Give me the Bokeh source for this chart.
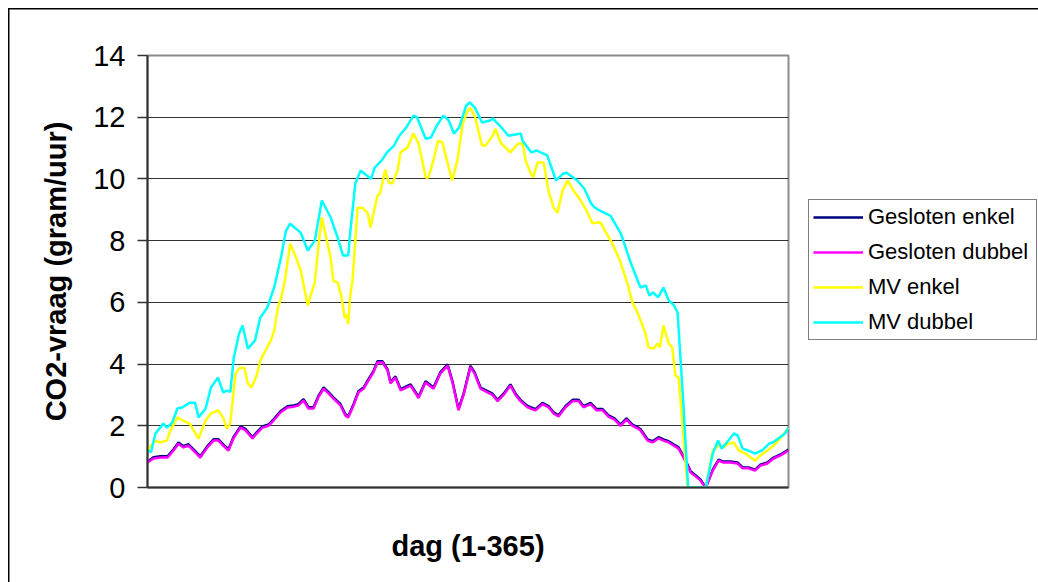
from bokeh.plotting import figure
from bokeh.layouts import row
from bokeh.models import Legend, LegendItem, FixedTicker, Range1d
from bokeh.embed import file_html
from bokeh.resources import INLINE

# --- data: CO2 demand per day of year ---------------------------------
dag_gesloten = [1, 4.4, 8.4, 12.4, 15.8, 18.6, 21.4, 24.3, 27, 31, 35, 38.5, 41.3, 44, 47,
                49.8, 53.8, 56.7, 60.6, 63.5, 66.3, 69.7, 72.6, 76.5, 80.5, 84, 86.7, 89.6,
                92.4, 95.3, 98, 101, 103.8, 106.6, 110.6, 113.4, 115, 118, 120.8, 123.7,
                126.5, 129.3, 131.6, 134.5, 137.3, 139, 141.8, 144.7, 150.4, 154.9, 158.9,
                163.4, 167.4, 171.4, 174.2, 177.6, 180.5, 184.4, 186.7, 190.1, 193.5, 196.9,
                199.8, 203.2, 207.1, 210, 212.8, 216.8, 221.3, 225.3, 228.7, 231.6, 234.4,
                238.4, 242.4, 245.8, 248.6, 252.6, 256, 259.4, 262.8, 266.2, 269.6, 273,
                276.4, 279.8, 281, 285, 287.8, 291.2, 294, 296.9, 299.7, 302.6, 305.4, 309.4,
                315, 318, 322, 325.3, 328, 332, 336, 339, 342.3, 346, 349, 353, 356.5, 360.5,
                365]

gesloten_enkel = [0.84, 0.98, 1.01, 1.01, 1.24, 1.46, 1.34, 1.4, 1.24, 1.01, 1.34, 1.56, 1.56,
                  1.4, 1.24, 1.63, 1.98, 1.89, 1.63, 1.82, 1.98, 2.04, 2.21, 2.47, 2.63, 2.66,
                  2.7, 2.86, 2.6, 2.6, 2.96, 3.24, 3.09, 2.92, 2.7, 2.37, 2.31, 2.7, 3.12, 3.24,
                  3.51, 3.77, 4.09, 4.09, 3.83, 3.41, 3.6, 3.19, 3.34, 2.94, 3.44, 3.24, 3.74,
                  3.99, 3.44, 2.54, 3.04, 3.94, 3.74, 3.24, 3.14, 3.04, 2.84, 3.04, 3.34, 3.04,
                  2.84, 2.64, 2.54, 2.74, 2.64, 2.44, 2.34, 2.64, 2.84, 2.84, 2.64, 2.74, 2.54,
                  2.54, 2.34, 2.24, 2.04, 2.24, 2.04, 1.94, 1.89, 1.56, 1.5, 1.63, 1.56, 1.5,
                  1.4, 1.3, 1.01, 0.53, 0.26, 0.0, 0.58, 0.9, 0.84, 0.84, 0.81, 0.65, 0.65,
                  0.58, 0.74, 0.81, 0.97, 1.07, 1.23]

gesloten_dubbel = [0.81, 0.94, 0.97, 0.97, 1.2, 1.42, 1.3, 1.36, 1.2, 0.97, 1.3, 1.52, 1.52,
                   1.36, 1.2, 1.59, 1.94, 1.85, 1.59, 1.78, 1.94, 2.0, 2.17, 2.43, 2.59, 2.62,
                   2.66, 2.82, 2.56, 2.56, 2.92, 3.2, 3.05, 2.88, 2.66, 2.33, 2.27, 2.66, 3.08,
                   3.2, 3.47, 3.73, 4.05, 4.05, 3.79, 3.37, 3.56, 3.15, 3.3, 2.9, 3.4, 3.2, 3.7,
                   3.95, 3.4, 2.5, 3.0, 3.9, 3.7, 3.2, 3.1, 3.0, 2.8, 3.0, 3.3, 3.0, 2.8, 2.6,
                   2.5, 2.7, 2.6, 2.4, 2.3, 2.6, 2.8, 2.8, 2.6, 2.7, 2.5, 2.5, 2.3, 2.2, 2.0,
                   2.2, 2.0, 1.9, 1.85, 1.52, 1.46, 1.59, 1.52, 1.46, 1.36, 1.26, 0.97, 0.49,
                   0.23, 0.0, 0.55, 0.87, 0.81, 0.81, 0.78, 0.62, 0.62, 0.55, 0.71, 0.78, 0.94,
                   1.04, 1.2]

dag_mv_enkel = [1, 3, 5.5, 8, 12, 13.5, 16, 18, 21, 25, 28, 30, 34, 37, 41, 44, 46, 48, 51, 53,
                56, 58, 60, 63, 65, 68, 71, 73, 75, 77, 79, 82, 85, 88, 92, 94, 96, 98, 100,
                105, 106.5, 109, 111, 113, 114, 115, 116, 117.4, 120.3, 123, 126, 127.6,
                131.6, 133, 136, 138, 140, 143, 144.7, 148.7, 152, 154.9, 159, 160.6, 163.4,
                166, 168.5, 171, 174, 177, 180, 182.7, 184.4, 187, 191, 193, 197, 198.6,
                201.5, 207, 211.7, 214, 215.7, 218.5, 220, 222.5, 226, 228.7, 231.6, 233.8,
                236.7, 239.5, 243, 247, 249.7, 253.7, 256.6, 258.3, 261, 265, 269, 273.6,
                276.4, 279, 281, 283.8, 285.5, 288.4, 290.6, 292, 294, 297, 299, 300.8, 302.6,
                307.7, 318, 322, 325, 328, 331, 334, 336.6, 340.6, 343.4, 346, 349, 353,
                356.5, 360.5, 365]

mv_enkel = [1.2, 1.35, 1.52, 1.46, 1.52, 1.78, 2.07, 2.27, 2.17, 2.07, 1.78, 1.59, 2.17, 2.4,
            2.5, 2.27, 1.91, 2.07, 3.69, 3.86, 3.89, 3.37, 3.24, 3.63, 4.1, 4.44, 4.76, 5.09,
            5.83, 6.16, 6.7, 7.9, 7.5, 7.03, 5.9, 6.28, 6.64, 7.8, 8.75, 7.45, 6.7, 6.64, 6.22,
            5.5, 5.6, 5.3, 6.16, 6.7, 9.07, 9.07, 8.9, 8.43, 9.46, 9.52, 10.3, 9.88, 9.85,
            10.27, 10.86, 11.02, 11.47, 11.15, 10.05, 10.05, 10.6, 11.24, 11.18, 10.6, 9.95,
            10.6, 11.8, 12.2, 12.3, 12.0, 11.08, 11.08, 11.4, 11.63, 11.18, 10.86, 11.15,
            11.15, 10.6, 10.2, 10.05, 10.53, 10.53, 9.62, 9.07, 8.9, 9.62, 9.95, 9.62, 9.3,
            9.04, 8.56, 8.59, 8.59, 8.3, 7.9, 7.4, 6.6, 6.0, 5.7, 5.41, 4.99, 4.54, 4.5, 4.66,
            4.54, 5.25, 4.66, 4.54, 3.63, 3.56, 0.0, 0.0, 1.2, 1.36, 1.3, 1.42, 1.46, 1.2,
            1.1, 0.97, 0.87, 1.04, 1.2, 1.36, 1.6, 1.94]

dag_mv_dubbel = [1, 3, 5.5, 10, 12, 15, 18, 21, 25, 28, 30, 34, 37, 41, 44, 46, 48, 50, 53, 55,
                 58, 62, 65, 69, 71, 73, 77, 79.5, 82, 85, 88, 92, 96, 100, 105, 109, 112, 115,
                 116, 119, 122, 128, 130, 134, 137, 141, 144, 148, 152, 154, 159, 162, 165,
                 169, 172, 175, 178, 182, 184, 187, 191, 196, 197, 201, 206, 213, 214, 219,
                 222, 228, 233, 237, 239, 245, 249, 253, 255, 258, 264, 270, 275, 278, 281,
                 284, 286, 288, 291, 294, 297, 300, 302, 305, 308, 318, 322, 325, 327, 330,
                 334, 336, 339, 342, 346, 350, 354, 356, 360, 363, 365]

mv_dubbel = [1.2, 1.15, 1.75, 2.07, 1.94, 2.1, 2.56, 2.6, 2.75, 2.75, 2.27, 2.56, 3.24, 3.56,
             3.08, 3.14, 3.1, 4.2, 4.99, 5.25, 4.5, 4.76, 5.5, 5.83, 6.16, 6.5, 7.5, 8.3, 8.55,
             8.4, 8.26, 7.68, 8.0, 9.3, 8.75, 8.1, 7.52, 7.52, 8.2, 9.85, 10.27, 10.0, 10.37,
             10.6, 10.86, 11.08, 11.4, 11.67, 12.05, 12.0, 11.3, 11.34, 11.7, 12.05, 11.9,
             11.47, 11.67, 12.38, 12.48, 12.3, 11.83, 11.9, 11.96, 11.73, 11.4, 11.47, 11.24,
             10.86, 10.92, 10.76, 9.95, 10.17, 10.2, 9.95, 9.69, 9.2, 9.07, 8.97, 8.8, 8.2,
             7.35, 6.9, 6.48, 6.55, 6.22, 6.32, 6.16, 6.48, 6.06, 5.9, 5.67, 3.0, 0.0, 0.0,
             1.1, 1.52, 1.26, 1.46, 1.75, 1.7, 1.26, 1.2, 1.1, 1.2, 1.42, 1.46, 1.62, 1.75,
             1.94]

y_ticks = [0, 2, 4, 6, 8, 10, 12, 14]

series = [
    ("Gesloten enkel", dag_gesloten, gesloten_enkel, "#000080"),
    ("Gesloten dubbel", dag_gesloten, gesloten_dubbel, "#FF00FF"),
    ("MV enkel", dag_mv_enkel, mv_enkel, "#FFFF00"),
    ("MV dubbel", dag_mv_dubbel, mv_dubbel, "#00FFFF"),
]

# --- layout constants ----------------------------------------------------
W, H = 1038, 582
MAIN_W = 808                       # chart part; the rest holds the legend
FRAME_L, FRAME_R, FRAME_T, FRAME_B = 147, 788, 55, 487
FONT = "Liberation Sans"
LINE_W = 2.5

# --- main chart ----------------------------------------------------------
p = figure(width=MAIN_W, height=H, output_backend="svg", toolbar_location=None,
           x_range=Range1d(1, 365), y_range=Range1d(0, 14),
           min_border_left=FRAME_L, min_border_right=MAIN_W - FRAME_R,
           min_border_top=FRAME_T, min_border_bottom=H - FRAME_B,
           background_fill_color="white", border_fill_alpha=0)

p.outline_line_color = "#8c8c8c"
p.outline_line_width = 2

# y axis
p.yaxis.ticker = FixedTicker(ticks=y_ticks)
p.yaxis.major_tick_out = 10
p.yaxis.major_tick_in = 0
p.yaxis.minor_tick_out = 0
p.yaxis.minor_tick_in = 0
p.yaxis.axis_line_color = "#333333"
p.yaxis.axis_line_width = 2
p.yaxis.major_tick_line_color = "#333333"
p.yaxis.major_tick_line_width = 1.5
p.yaxis.major_label_text_font = FONT
p.yaxis.major_label_text_font_size = "29px"
p.yaxis.major_label_text_color = "black"
p.yaxis.major_label_standoff = 12
p.yaxis.axis_label = "CO2-vraag (gram/uur)"
p.yaxis.axis_label_text_font = FONT
p.yaxis.axis_label_text_font_style = "bold"
p.yaxis.axis_label_text_font_size = "29px"
p.yaxis.axis_label_text_color = "black"
p.yaxis.axis_label_standoff = 18

# x axis: no ticks, only the title
p.xaxis.ticker = FixedTicker(ticks=[])
p.xaxis.major_tick_out = 0
p.xaxis.major_tick_in = 0
p.xaxis.minor_tick_out = 0
p.xaxis.minor_tick_in = 0
p.xaxis.axis_line_color = "#333333"
p.xaxis.axis_line_width = 2
p.xaxis.axis_label = "dag (1-365)"
p.xaxis.axis_label_text_font = FONT
p.xaxis.axis_label_text_font_style = "bold"
p.xaxis.axis_label_text_font_size = "29px"
p.xaxis.axis_label_text_color = "black"
p.xaxis.axis_label_standoff = 42

p.xgrid.visible = False
p.ygrid.ticker = FixedTicker(ticks=y_ticks)
p.ygrid.grid_line_color = "#333333"
p.ygrid.grid_line_width = 1

for label, xs, ys, col in series:
    p.line(xs, ys, line_color=col, line_width=LINE_W)

# --- legend strip --------------------------------------------------------
# The strip's ranges lie outside the data, so only the legend keys show.
# Its frame is aligned with the main chart's frame (rows share frame edges).
leg_fig = figure(width=W - MAIN_W, height=H, output_backend="svg", toolbar_location=None,
                 x_range=Range1d(-20, -10), y_range=Range1d(-20, -10),
                 x_axis_type=None, y_axis_type=None,
                 min_border_left=0, min_border_right=0, min_border_top=0, min_border_bottom=0,
                 background_fill_alpha=0, border_fill_alpha=0, outline_line_color=None)

items = []
for label, xs, ys, col in series:
    key = leg_fig.line(xs, ys, line_color=col, line_width=LINE_W)
    items.append(LegendItem(label=label, renderers=[key]))

legend = Legend(items=items, location=(0, 147),
                label_text_font=FONT, label_text_font_size="22px",
                label_text_color="black",
                glyph_width=50, glyph_height=20, label_height=25, label_width=164,
                label_standoff=5, spacing=9, padding=4, margin=0,
                border_line_color="black", border_line_width=1,
                background_fill_color="white", background_fill_alpha=1)
leg_fig.add_layout(legend)

# white chart area with a thin black edge on its left and top side
page = row(p, leg_fig, spacing=0, styles={
    "background-color": "white",
    "background-image": "linear-gradient(#000, #000), linear-gradient(#000, #000)",
    "background-size": "1.5px 100%, 100% 1.5px",
    "background-position": "8px 8px, 8px 8px",
    "background-repeat": "no-repeat",
})

open("out.html", "w").write(file_html(page, INLINE))
